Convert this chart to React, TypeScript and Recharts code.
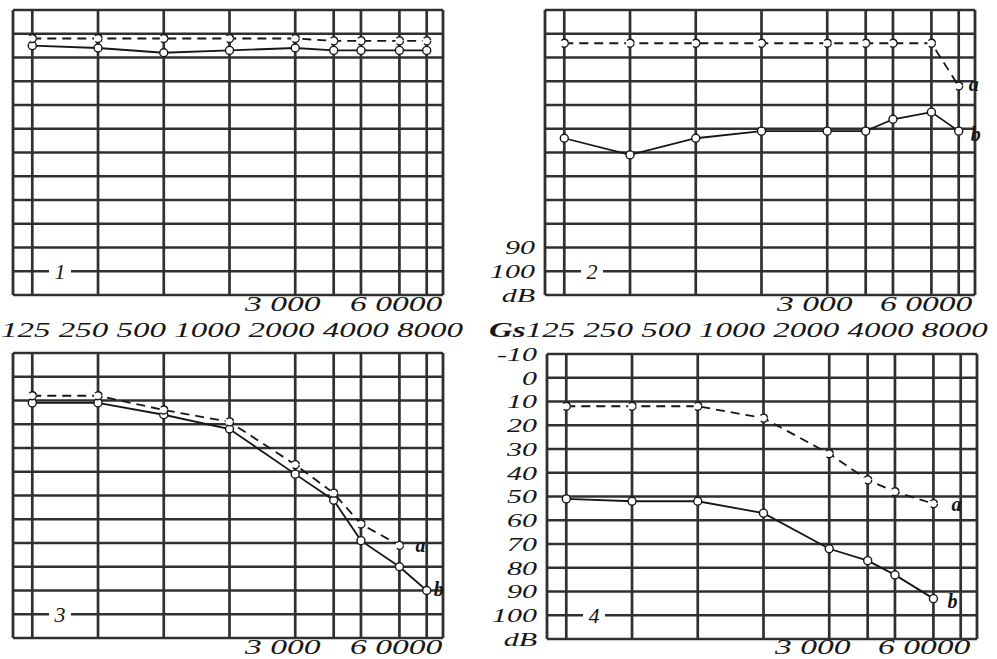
import React from 'react';
import { LineChart, Line, XAxis, YAxis, ReferenceLine, ReferenceDot } from 'recharts';

// audiogram frequencies (Hz) and hearing level grid (dB)
const freqs = [125, 250, 500, 1000, 2000, 3000, 4000, 6000, 8000];
const dbLines = [-10, 0, 10, 20, 30, 40, 50, 60, 70, 80, 90, 100, 110];
const xEdges = [102, 9500];

// curve a = dashed, curve b = solid
const p1A = [2, 2, 2, 2, 2, 3, 3, 3, 3];
const p1B = [5, 6, 8, 7, 6, 7, 7, 7, 7];
const p2A = [4, 4, 4, 4, 4, 4, 4, 4, 22];
const p2B = [44, 51, 44, 41, 41, 41, 36, 33, 41];
const p3A = [8, 8, 14, 19, 37, 49, 62, 71, null];
const p3B = [11, 11, 16, 22, 41, 52, 69, 80, 90];
const p4A = [12, 12, 12, 17, 32, 43, 48, 53, null];
const p4B = [51, 52, 52, 57, 72, 77, 83, 93, null];

const p2Ticks = [90, 100, 110];
const p4Ticks = [-10, 0, 10, 20, 30, 40, 50, 60, 70, 80, 90, 100, 110];

const headerFreqs = '125 250 500 1000 2000 4000 8000';
const bottomLeft = '3 000';
const bottomRight = '6 0000';

const SERIF = '"Liberation Serif", "DejaVu Serif", serif';
const INK = '#161616';
const GRID = '#303030';

const PLOT_W = 430;
const PLOT_H = 285;
const M = { top: 16, right: 28, bottom: 16, left: 5 };

const DbTick = (props: any) => {
  const { x, y, payload } = props;
  const v = payload.value === 110 ? 'dB' : String(payload.value);
  return (
    <text
      x={0}
      y={0}
      transform={`translate(${x},${y}) scale(1.58,1)`}
      textAnchor="end"
      dy="0.36em"
      fontFamily={SERIF}
      fontStyle="italic"
      fontSize={19}
      fill={INK}
    >
      {v}
    </text>
  );
};

const makeTag = (text: string) => (props: any) => {
  const vb = props.viewBox || {};
  const cx = (vb.x || 0) + 47;
  const cy = vb.y || 0;
  return (
    <g>
      <rect x={cx - 11} y={cy - 6} width={22} height={12} fill="#fff" />
      <text
        x={cx}
        y={cy}
        dy="0.36em"
        textAnchor="middle"
        fontFamily={SERIF}
        fontStyle="italic"
        fontSize={22}
        fill={INK}
      >
        {text}
      </text>
    </g>
  );
};

const lastIdx = (arr: (number | null)[]) => {
  for (let i = arr.length - 1; i >= 0; i--) if (arr[i] != null) return i;
  return 0;
};

interface PanelProps {
  left: number;
  top: number;
  a: (number | null)[];
  b: (number | null)[];
  tag: string;
  ticks?: number[];
  aLabel?: { dx: number; dy: number };
  bLabel?: { dx: number; dy: number };
}

const Panel: React.FC<PanelProps> = ({ left, top, a, b, tag, ticks, aLabel, bLabel }) => {
  const rows = freqs.map((f, i) => ({ f, a: a[i], b: b[i] }));
  const yW = ticks ? 62 : 0;
  const ai = lastIdx(a);
  const bi = lastIdx(b);
  const endLabel = (txt: string, off: { dx: number; dy: number }) => (p: any) => {
    const vb = p.viewBox || {};
    const cx = (vb.x || 0) + (vb.width || 0) / 2;
    const cy = (vb.y || 0) + (vb.height || 0) / 2;
    return (
      <text
        x={cx + off.dx}
        y={cy + off.dy}
        dy="0.36em"
        fontFamily={SERIF}
        fontStyle="italic"
        fontWeight="bold"
        fontSize={20}
        fill={INK}
      >
        {txt}
      </text>
    );
  };
  const dot = { r: 4, fill: '#fff', stroke: INK, strokeWidth: 1.4 };
  return (
    <div style={{ position: 'absolute', left: left - M.left - yW, top: top - M.top }}>
      <LineChart
        width={PLOT_W + M.left + M.right + yW}
        height={PLOT_H + M.top + M.bottom}
        data={rows}
        margin={M}
      >
        <XAxis dataKey="f" type="number" scale="log" domain={xEdges} allowDataOverflow hide />
        <YAxis
          type="number"
          domain={[-10, 110]}
          reversed
          allowDataOverflow
          hide={!ticks}
          width={yW}
          ticks={ticks}
          interval={0}
          axisLine={false}
          tickLine={false}
          tickSize={0}
          tickMargin={10}
          tick={<DbTick />}
        />
        {dbLines.map((d) => (
          <ReferenceLine
            key={`h${d}`}
            y={d}
            stroke={GRID}
            strokeWidth={2.3}
            label={d === 100 ? { content: makeTag(tag) } : undefined}
          />
        ))}
        {freqs.map((f) => (
          <ReferenceLine key={`v${f}`} x={f} stroke={GRID} strokeWidth={2.7} />
        ))}
        {xEdges.map((f) => (
          <ReferenceLine key={`e${f}`} x={f} stroke={GRID} strokeWidth={2.8} />
        ))}
        <Line
          type="linear"
          dataKey="b"
          stroke={INK}
          strokeWidth={1.8}
          dot={dot}
          isAnimationActive={false}
        />
        <Line
          type="linear"
          dataKey="a"
          stroke={INK}
          strokeWidth={1.8}
          strokeDasharray="9 6"
          dot={dot}
          isAnimationActive={false}
        />
        {aLabel && (
          <ReferenceDot
            x={freqs[ai]}
            y={a[ai] as number}
            r={0}
            ifOverflow="visible"
            label={{ content: endLabel('a', aLabel) }}
          />
        )}
        {bLabel && (
          <ReferenceDot
            x={freqs[bi]}
            y={b[bi] as number}
            r={0}
            ifOverflow="visible"
            label={{ content: endLabel('b', bLabel) }}
          />
        )}
      </LineChart>
    </div>
  );
};

const txt: React.CSSProperties = {
  position: 'absolute',
  fontFamily: SERIF,
  fontStyle: 'italic',
  color: INK,
  lineHeight: 1,
  whiteSpace: 'nowrap',
  transformOrigin: 'left top',
};

const App: React.FC = () => {
  return (
    <div
      style={{
        position: 'absolute',
        left: 0,
        top: 0,
        width: 997,
        height: 659,
        background: '#fff',
        overflow: 'hidden',
      }}
    >
      <Panel left={13} top={10} a={p1A} b={p1B} tag="1" />
      <Panel
        left={545}
        top={10}
        a={p2A}
        b={p2B}
        tag="2"
        ticks={p2Ticks}
        aLabel={{ dx: 10, dy: -2 }}
        bLabel={{ dx: 12, dy: 3 }}
      />
      <Panel
        left={13}
        top={353}
        a={p3A}
        b={p3B}
        tag="3"
        aLabel={{ dx: 16, dy: -1 }}
        bLabel={{ dx: 7, dy: -2 }}
      />
      <Panel
        left={547}
        top={354}
        a={p4A}
        b={p4B}
        tag="4"
        ticks={p4Ticks}
        aLabel={{ dx: 18, dy: 0 }}
        bLabel={{ dx: 14, dy: 2 }}
      />

      <div style={{ ...txt, left: 245, top: 294, fontSize: 21, transform: 'scaleX(1.6)' }}>{bottomLeft}</div>
      <div style={{ ...txt, left: 350, top: 294, fontSize: 21, transform: 'scaleX(1.6)' }}>{bottomRight}</div>
      <div style={{ ...txt, left: 777, top: 294, fontSize: 21, transform: 'scaleX(1.6)' }}>{bottomLeft}</div>
      <div style={{ ...txt, left: 880, top: 294, fontSize: 21, transform: 'scaleX(1.6)' }}>{bottomRight}</div>

      <div style={{ ...txt, left: 245, top: 637, fontSize: 21, transform: 'scaleX(1.6)' }}>{bottomLeft}</div>
      <div style={{ ...txt, left: 350, top: 637, fontSize: 21, transform: 'scaleX(1.6)' }}>{bottomRight}</div>
      <div style={{ ...txt, left: 775, top: 637, fontSize: 21, transform: 'scaleX(1.6)' }}>{bottomLeft}</div>
      <div style={{ ...txt, left: 878, top: 637, fontSize: 21, transform: 'scaleX(1.6)' }}>{bottomRight}</div>

      <div style={{ ...txt, left: 1, top: 319, fontSize: 22, transform: 'scaleX(1.5)' }}>{headerFreqs}</div>
      <div style={{ ...txt, left: 489, top: 319, fontSize: 22, transform: 'scaleX(1.5)' }}>
        <b>Gs</b>
        {headerFreqs}
      </div>
    </div>
  );
};

export default App;
